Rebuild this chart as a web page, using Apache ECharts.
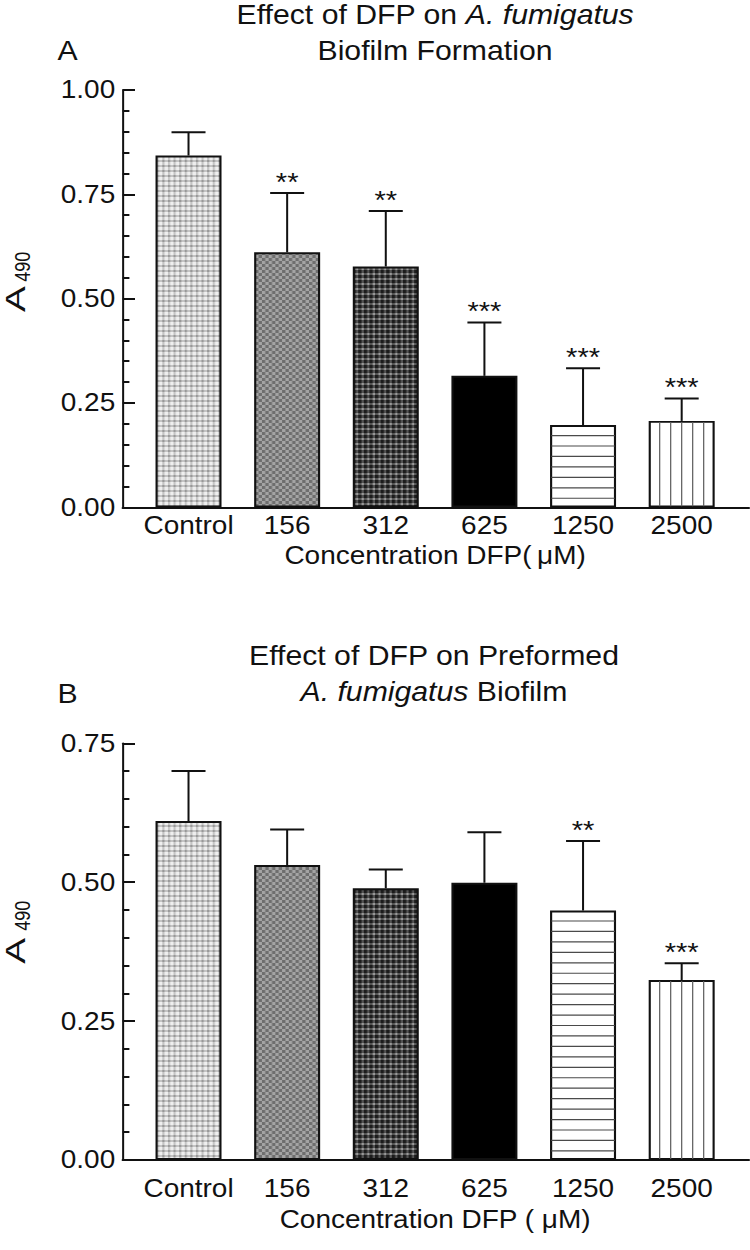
<!DOCTYPE html>
<html>
<head>
<meta charset="utf-8">
<script src="https://cdn.jsdelivr.net/npm/echarts@6/dist/echarts.min.js"></script>
<style>
html, body { margin: 0; padding: 0; background: #fff; overflow: hidden; }
#wrap { width: 750px; height: 1250px; overflow: hidden; }
#main { width: 670px; height: 1250px; transform: scaleX(1.119403); transform-origin: 0 0; }
</style>
</head>
<body>
<div id="wrap"><div id="main"></div></div>
<script>
// ---------------- data ----------------
const categories = ['Control', '156', '312', '625', '1250', '2500'];
const formationMean = [0.843, 0.611, 0.577, 0.315, 0.197, 0.207];
const formationSD   = [0.056, 0.142, 0.133, 0.128, 0.136, 0.054];
const formationSig  = ['', '**', '**', '***', '***', '***'];
const preformedMean = [0.610, 0.531, 0.489, 0.499, 0.449, 0.324];
const preformedSD   = [0.090, 0.064, 0.034, 0.091, 0.125, 0.030];
const preformedSig  = ['', '', '', '', '**', '***'];
const yMaxA = 1.0, yMaxB = 0.75, yStep = 0.25;

// ---------------- layout / style helpers ----------------
const K = 750 / 670;              // horizontal stretch of the page
const sx = v => v / K;            // screen x -> chart x
const FONT = "'Liberation Sans', Arial, Helvetica, sans-serif";
const INK = '#111';
const barW = sx(66);
const capW = sx(34);
const hPeriod = 10.45;            // spacing of horizontal hatch lines
const vDivisions = 6;             // vertical hatch divides bar in 6
const hatchKind = ['', '', '', '', 'h', 'v'];

function tile(w, h, draw) {
  const c = document.createElement('canvas');
  c.width = w; c.height = h;
  draw(c.getContext('2d'));
  return { image: c, repeat: 'repeat', imageWidth: w, imageHeight: h };
}
const gingham = (n, band, a, b, c) => tile(n, n, g => {
  g.fillStyle = a; g.fillRect(0, 0, n, n);
  g.fillStyle = b; g.fillRect(0, 0, band, n); g.fillRect(0, 0, n, band);
  g.fillStyle = c; g.fillRect(0, 0, band, band);
});
const checker = (n, a, b) => tile(2 * n, 2 * n, g => {
  g.fillStyle = a; g.fillRect(0, 0, 2 * n, 2 * n);
  g.fillStyle = b; g.fillRect(0, 0, n, n); g.fillRect(n, n, n, n);
});
const barFills = [
  gingham(5, 2, '#efefef', '#c4c4c4', '#989898'),
  checker(3, '#a4a4a4', '#6e6e6e'),
  gingham(5, 3, '#9a9a9a', '#545454', '#1c1c1c'),
  '#000',
  '#fff',
  '#fff'
];

// ---------------- axes builders ----------------
function frameX(grid) {
  return { type: 'value', gridIndex: grid, min: 0, max: 1,
    axisLine: { show: true, lineStyle: { color: INK, width: 2 } },
    axisTick: { show: false }, axisLabel: { show: false }, splitLine: { show: false } };
}
function catX(grid, margin, name, gap) {
  return { type: 'category', gridIndex: grid, data: categories,
    axisLine: { show: false }, axisTick: { show: false },
    axisLabel: { interval: 0, margin: margin, fontSize: 25, fontFamily: FONT, color: INK },
    name: name, nameLocation: 'middle', nameGap: gap,
    nameTextStyle: { fontSize: 25, fontFamily: FONT, color: INK } };
}
function frameY(grid, max) {
  return { type: 'value', gridIndex: grid, min: 0, max: max, interval: yStep,
    axisLine: { show: true, lineStyle: { color: INK, width: 1.8 } },
    axisTick: { show: true, inside: true, length: sx(12.3), lineStyle: { color: INK, width: 2 } },
    minorTick: { show: true, splitNumber: 5, length: sx(6.7), lineStyle: { color: INK, width: 2 } },
    axisLabel: { margin: sx(7.5), fontSize: 25, fontFamily: FONT, color: INK,
                 formatter: v => v.toFixed(2) },
    splitLine: { show: false }, minorSplitLine: { show: false } };
}
function hiddenY(grid, max) {
  return { type: 'value', gridIndex: grid, min: 0, max: max, show: false, splitLine: { show: false } };
}

// ---------------- series builders ----------------
function barSeries(xi, yi, mean) {
  return { type: 'bar', xAxisIndex: xi, yAxisIndex: yi, barWidth: barW, z: 2,
    data: mean.map((m, i) => ({ value: m, itemStyle: { color: barFills[i] } })),
    itemStyle: { borderColor: INK, borderWidth: 1.9 }, emphasis: { disabled: true } };
}
function hatchSeries(xi, yi, mean) {
  return {
    type: 'custom', xAxisIndex: xi, yAxisIndex: yi, z: 3, silent: true,
    data: mean.map((m, i) => [i, m]),
    renderItem: (params, api) => {
      const i = api.value(0), kind = hatchKind[i];
      const top = api.coord([i, api.value(1)]);
      const base = api.coord([i, 0]);
      const left = top[0] - barW / 2, right = top[0] + barW / 2;
      const children = [];
      if (kind === 'h') {
        for (let y = top[1] + hPeriod; y < base[1] - 2; y += hPeriod) {
          children.push({ type: 'line', shape: { x1: left + 1, y1: y, x2: right - 1, y2: y },
            style: { stroke: '#4a4a4a', lineWidth: 1.2 } });
        }
      } else if (kind === 'v') {
        const step = barW / vDivisions;
        for (let k = 1; k < vDivisions; k++) {
          const x = left + k * step;
          children.push({ type: 'line', shape: { x1: x, y1: top[1] + 1, x2: x, y2: base[1] - 1 },
            style: { stroke: '#5e5e5e', lineWidth: 1.1 } });
        }
      }
      return { type: 'group', children: children };
    }
  };
}
function errSeries(xi, yi, mean, sd, sig) {
  return {
    type: 'custom', xAxisIndex: xi, yAxisIndex: yi, z: 5, silent: true,
    data: mean.map((m, i) => [i, m, sd[i]]),
    renderItem: (params, api) => {
      const i = api.value(0), v = api.value(1), e = api.value(2);
      const p0 = api.coord([i, v]);
      const p1 = api.coord([i, v + e]);
      return { type: 'group', children: [
        { type: 'line', shape: { x1: p0[0], y1: p0[1], x2: p1[0], y2: p1[1] },
          style: { stroke: INK, lineWidth: 1.8 } },
        { type: 'line', shape: { x1: p1[0] - capW / 2, y1: p1[1], x2: p1[0] + capW / 2, y2: p1[1] },
          style: { stroke: INK, lineWidth: 2 } },
        { type: 'text', style: { text: sig[i], x: p1[0], y: p1[1] - 11, align: 'center',
          verticalAlign: 'middle', fontSize: 26, fontFamily: FONT, fill: INK } }
      ] };
    }
  };
}

const titleRich = {
  n: { fontSize: 27, lineHeight: 36, fontFamily: FONT, fontWeight: 'normal', color: INK },
  i: { fontSize: 27, lineHeight: 36, fontFamily: FONT, fontWeight: 'normal', fontStyle: 'italic', color: INK }
};
function yName(yA, yD) {
  return [
    { type: 'text', x: sx(14.6), y: yA, rotation: Math.PI / 2, scaleX: 1.55,
      style: { text: 'A', align: 'center', verticalAlign: 'middle', fontSize: 25,
               lineHeight: 22, fontFamily: FONT, fill: INK } },
    { type: 'text', x: sx(21.8), y: yD, rotation: Math.PI / 2, scaleX: 0.9,
      style: { text: '490', align: 'center', verticalAlign: 'middle', fontSize: 20,
               lineHeight: 18, fontFamily: FONT, fill: INK } }
  ];
}

const option = {
  animation: false,
  backgroundColor: '#fff',
  title: [
    { text: '{n|Effect of DFP on }{i|A. fumigatus}\n{n|Biofilm Formation}',
      left: sx(435), top: 14.5 - 18, textAlign: 'center', textVerticalAlign: 'top', padding: 0,
      textStyle: { fontWeight: 'normal', rich: titleRich } },
    { text: '{n|Effect of DFP on Preformed}\n{i|A. fumigatus}{n| Biofilm}',
      left: sx(434), top: 656 - 18, textAlign: 'center', textVerticalAlign: 'top', padding: 0,
      textStyle: { fontWeight: 'normal', rich: titleRich } }
  ],
  graphic: [
    { type: 'text', x: sx(57.5), y: 50.5, style: { text: 'A', align: 'left', verticalAlign: 'middle',
      fontSize: 27, fontFamily: FONT, fill: INK } },
    { type: 'text', x: sx(57.5), y: 693.3, style: { text: 'B', align: 'left', verticalAlign: 'middle',
      fontSize: 27, fontFamily: FONT, fill: INK } }
  ].concat(yName(299, 266.7), yName(950.8, 915.8)),
  grid: [
    { left: sx(122.7), width: sx(749 - 122.7), top: 90, height: 417.3 },
    { left: sx(139.2), width: sx(731.0 - 139.2), top: 90, height: 417.3 },
    { left: sx(122.7), width: sx(749 - 122.7), top: 743.3, height: 416.7 },
    { left: sx(139.2), width: sx(731.0 - 139.2), top: 743.3, height: 416.7 }
  ],
  xAxis: [
    frameX(0),
    catX(1, 6, 'Concentration DFP(\u2009\u03bcM)', 36),
    frameX(2),
    catX(3, 15.8, 'Concentration DFP ( \u03bcM)', 47.5)
  ],
  yAxis: [frameY(0, yMaxA), hiddenY(1, yMaxA), frameY(2, yMaxB), hiddenY(3, yMaxB)],
  series: [
    barSeries(1, 1, formationMean),
    hatchSeries(1, 1, formationMean),
    errSeries(1, 1, formationMean, formationSD, formationSig),
    barSeries(3, 3, preformedMean),
    hatchSeries(3, 3, preformedMean),
    errSeries(3, 3, preformedMean, preformedSD, preformedSig)
  ]
};

const chart = echarts.init(document.getElementById('main'), null, { renderer: 'svg' });
chart.setOption(option);
</script>
</body>
</html>
